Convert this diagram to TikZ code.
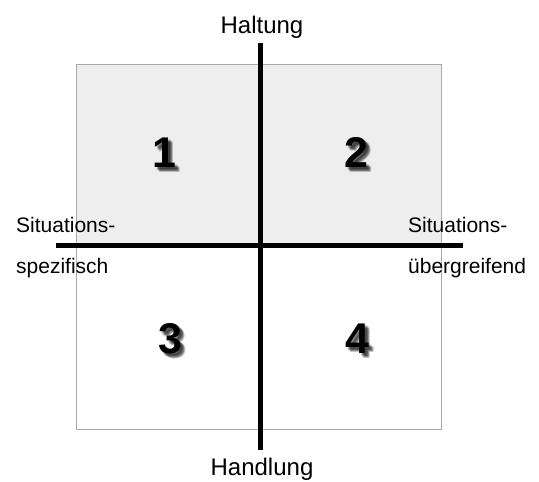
\documentclass[tikz,border=0pt]{standalone}
\usepackage{fontspec}
\setmainfont{Liberation Sans}
\definecolor{boxgray}{HTML}{EEEEEE}
\definecolor{edgegray}{HTML}{AAAAAA}
\begin{document}
\begin{tikzpicture}[x=1pt,y=-1pt,
  axis/.style={line width=5pt},
  lbl/.style={font=\fontsize{21}{25}\selectfont, inner sep=0pt},
  biglbl/.style={font=\fontsize{24}{28}\selectfont, inner sep=0pt, anchor=base},
  num/.style={font=\fontsize{43}{48}\selectfont\bfseries, inner sep=0pt, anchor=base},
  shadow/.style={num, text=black, opacity=0.12}]
\useasboundingbox (0,0) rectangle (539,482);
\fill[boxgray] (76,64.5) rectangle (441,245.5);
\draw[edgegray, line width=1pt] (76,64.5) rectangle (441,429);
% axis end points
\coordinate (top) at (260,43);
\coordinate (bottom) at (260,450);
\coordinate (left) at (56,245.5);
\coordinate (right) at (463,245.5);
\draw[axis] (top) -- (bottom);
\draw[axis] (left) -- (right);
% labels
\node[biglbl] (haltung) at (262,33) {Haltung};
\node[biglbl] (handlung) at (262,475) {Handlung};
\node[lbl, anchor=base west] (sl1) at (16,232) {Situations-};
\node[lbl, anchor=base west] (sl2) at (16,273) {spezifisch};
\node[lbl, anchor=base west] (sr1) at (408,232) {Situations-};
\node[lbl, anchor=base west] (sr2) at (408,273) {übergreifend};
% numbers with soft shadow
\foreach \n/\x/\y in {1/164/167, 2/356/167, 3/170/353, 4/357/353}{
  \foreach \dx/\dy in {2/2,3/3,4/4,3/2,2/3,4/3,3/4,5/5,4/5,5/4}{
    \node[shadow] at (\x+\dx,\y+\dy) {\n};
  }
  \node[num] (n\n) at (\x,\y) {\n};
}
\end{tikzpicture}
\end{document}
